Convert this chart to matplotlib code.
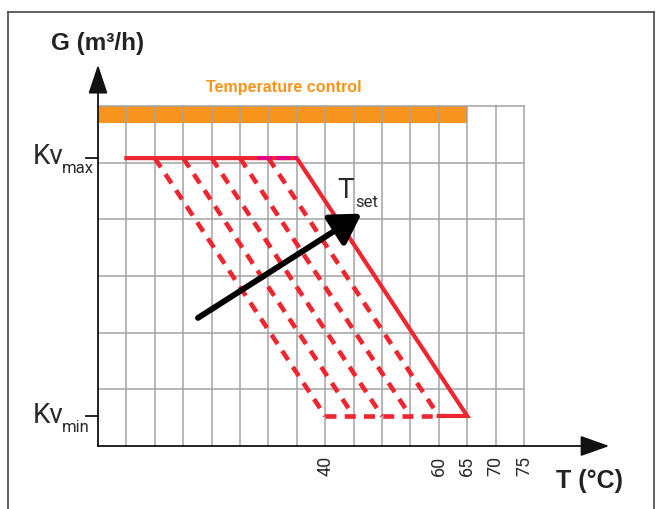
import matplotlib.pyplot as plt
from matplotlib import font_manager

# data
temp_ticks = [40, 60, 65, 70, 75]
grid_temps = list(range(0, 80, 5))
grid_rows = [1, 2, 3, 4, 5, 6]
control_range = [0, 65]
kv_max = 5.08
kv_min = 0.53
set_starts = [10, 15, 20, 25, 30]      # dashed curves, start of slope at Kv_max
set_ends = [40, 45, 50, 55, 60]        # dashed curves, end of slope at Kv_min
main_curve_t = [5, 35, 65, 60]
main_curve_g = [kv_max, kv_max, kv_min, kv_min]
pink_seg = [28, 35]
arrow_from = (17.6, 2.26)
arrow_to = (46.4, 4.1)

RED = '#ee2630'
PINK = '#e5097f'
ORANGE = '#f7941d'
GRID = '#a3a3a3'
INK = '#2a2a2a'

names = {f.name for f in font_manager.fontManager.ttflist}
light = 'Roboto' if 'Roboto' in names else 'DejaVu Sans'
bold = 'Liberation Sans' if 'Liberation Sans' in names else 'DejaVu Sans'
narrow = 'Liberation Sans Narrow' if 'Liberation Sans Narrow' in names else bold

W, H = 660, 509
fig = plt.figure(figsize=(W / 100, H / 100), dpi=100)
ax = fig.add_axes([0, 0, 1, 1])
# pixel mapping: x_px = 98 + 5.68*T, y_px = 446 - 56.67*G
sx, sy = 5.68, 56.67
ax.set_xlim(-98 / sx, (W - 98) / sx)
ax.set_ylim(-(H - 446) / sy, 446 / sy)
ax.axis('off')


def at(px, py):
    return (px - 98) / sx, (446 - py) / sy


# outer frame (open at bottom)
for xs, ys in [([8, 8], [H, 12]), ([8, 654], [12, 12]), ([654, 654], [12, H])]:
    fig.add_artist(plt.Line2D([x / W for x in xs], [1 - y / H for y in ys],
                              color='#555555', lw=1.3))

# temperature control band
ax.fill_between(control_range, 5.7, 6.0, color=ORANGE, lw=0, zorder=1)

# grid
for t in grid_temps[1:]:
    ax.plot([t, t], [0, 6], color=GRID, lw=1.1, zorder=2)
for r in grid_rows:
    ax.plot([0, 75], [r, r], color=GRID, lw=1.1, zorder=2)

# axes with arrows
ax.plot([0, 0], [0, 6.5], color='#111111', lw=1.3, zorder=3)
ax.plot([0, 87.5], [0, 0], color='#111111', lw=1.3, zorder=3)
ax.annotate('', xy=at(98, 62), xytext=at(98, 85),
            arrowprops=dict(arrowstyle='-|>,head_length=0.9,head_width=0.3',
                            color='#111111', lw=1.3, mutation_scale=20), zorder=3)
ax.annotate('', xy=at(612, 446), xytext=at(585, 446),
            arrowprops=dict(arrowstyle='-|>,head_length=0.9,head_width=0.32',
                            color='#111111', lw=1.3, mutation_scale=20), zorder=3)

# Kv ticks
for g in [kv_max, kv_min]:
    ax.plot([-12 / sx, 0], [g, g], color='#111111', lw=1.3, zorder=3)

# dashed family
for t0, t1 in zip(set_starts, set_ends):
    ax.plot([t0, t1], [kv_max, kv_min], color=RED, lw=3.3, ls=(0, (2.4, 1.8)),
            dash_capstyle='butt', zorder=4)
ax.plot([set_ends[0], set_ends[-1]], [kv_min, kv_min], color=RED, lw=3.3,
        ls=(0, (2.4, 1.8)), dash_capstyle='butt', zorder=4)

# main curve
ax.plot(main_curve_t, main_curve_g, color=RED, lw=3, zorder=5,
        solid_joinstyle='miter')
ax.plot(pink_seg, [kv_max, kv_max], color=PINK, lw=3, ls=(0, (3.5, 1.0)),
        zorder=6)

# T_set arrow
ax.annotate('', xy=arrow_to, xytext=arrow_from,
            arrowprops=dict(arrowstyle='-|>,head_length=0.45,head_width=0.27',
                            color='black', lw=4.2, mutation_scale=40,
                            shrinkA=0, shrinkB=0), zorder=7)

# texts
ax.text(*at(337, 198), 'T', family=light, fontsize=20,
        color=INK, va='baseline', ha='left')
ax.text(*at(355, 207), 'set', family=light, fontsize=12,
        color=INK, va='baseline', ha='left')

for lbl, py in [('max', 164), ('min', 423)]:
    ax.text(*at(33, py), 'Kv', family=light, fontsize=20,
            color=INK, va='baseline', ha='left')
    ax.text(*at(62, py + 9), lbl, family=light, fontsize=12,
            color=INK, va='baseline', ha='left')

for t in temp_ticks:
    ax.text(t, at(0, 456)[1], str(t), family=light, fontsize=13,
            rotation=90, ha='center', va='top', color=INK)

ax.text(*at(51, 50), 'G (m³/h)', family=bold, weight='bold',
        fontsize=17.5, color='#222222', va='baseline', ha='left')
ax.text(*at(556, 488), 'T (°C)', family=bold, weight='bold', fontsize=18,
        color='#222222', va='baseline', ha='left')
ax.text(*at(206, 92), 'Temperature control', family=narrow, weight='bold',
        fontsize=11.6, color=ORANGE, va='baseline', ha='left')

fig.savefig('out.png', dpi=100)
